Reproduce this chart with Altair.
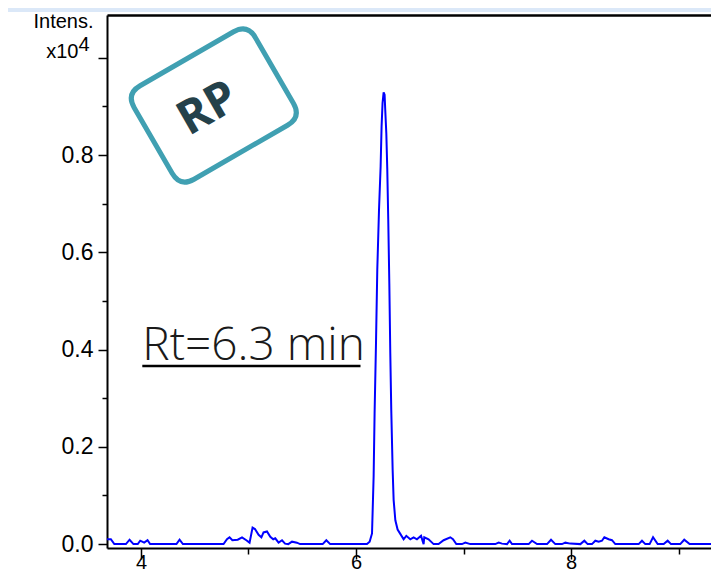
import altair as alt
import pandas as pd

# Retention time (min)
times = [3.684, 3.720, 3.752, 3.860, 3.894, 3.930, 3.970, 3.993, 4.030, 4.061,
         4.085, 4.330, 4.359, 4.390, 4.768, 4.800, 4.824, 4.850, 4.900, 4.940,
         4.980, 5.010, 5.038, 5.060, 5.094, 5.120, 5.140, 5.172, 5.203, 5.230,
         5.249, 5.280, 5.312, 5.340, 5.370, 5.405, 5.450, 5.480, 5.690, 5.724,
         5.760, 6.102, 6.127, 6.149, 6.164, 6.173, 6.186, 6.198, 6.214, 6.229,
         6.238, 6.247, 6.257, 6.266, 6.272, 6.282, 6.291, 6.300, 6.310, 6.319,
         6.328, 6.341, 6.350, 6.366, 6.387, 6.412, 6.443, 6.468, 6.505, 6.536,
         6.567, 6.605, 6.623, 6.629, 6.635, 6.675, 6.722, 6.768, 6.815, 6.877,
         6.902, 6.933, 6.986, 7.017, 7.063, 7.296, 7.327, 7.358, 7.405, 7.429,
         7.451, 7.606, 7.637, 7.684, 7.777, 7.814, 7.854, 7.916, 7.947, 7.993,
         8.087, 8.124, 8.155, 8.195, 8.226, 8.257, 8.288, 8.310, 8.350, 8.381,
         8.412, 8.629, 8.660, 8.691, 8.731, 8.763, 8.806, 8.862, 8.899, 8.930,
         9.016, 9.053, 9.103, 9.380]

# Intensity (x10^4)
intensity = [0.010, 0.010, 0.000, 0.000, 0.009, 0.000, 0.000, 0.007, 0.003, 0.008,
             0.000, 0.000, 0.009, 0.000, 0.000, 0.010, 0.014, 0.008, 0.009, 0.014,
             0.008, 0.003, 0.034, 0.031, 0.019, 0.014, 0.024, 0.026, 0.015, 0.010,
             0.012, 0.003, 0.008, 0.001, 0.000, 0.005, 0.003, 0.000, 0.000, 0.008,
             0.000, 0.000, 0.005, 0.022, 0.139, 0.269, 0.413, 0.564, 0.687, 0.776,
             0.859, 0.907, 0.929, 0.924, 0.893, 0.845, 0.770, 0.667, 0.536, 0.392,
             0.276, 0.152, 0.091, 0.049, 0.030, 0.021, 0.010, 0.017, 0.010, 0.014,
             0.010, 0.017, 0.004, 0.000, 0.014, 0.010, 0.000, 0.000, 0.008, 0.014,
             0.010, 0.000, 0.000, 0.003, 0.000, 0.000, 0.003, 0.001, 0.000, 0.007,
             0.000, 0.000, 0.007, 0.000, 0.000, 0.009, 0.000, 0.000, 0.003, 0.001,
             0.000, 0.007, 0.000, 0.000, 0.007, 0.005, 0.007, 0.014, 0.010, 0.008,
             0.000, 0.000, 0.007, 0.000, 0.000, 0.014, 0.000, 0.000, 0.007, 0.000,
             0.000, 0.009, 0.000, 0.000]

x_major = [4, 6, 8]
x_minor = [5, 7, 9]
y_major = [0.0, 0.2, 0.4, 0.6, 0.8, 1.0]
y_minor = [0.1, 0.3, 0.5, 0.7, 0.9]

x_domain = [3.684, 9.302]
y_domain = [-0.008, 1.088]

df = pd.DataFrame({"t": times, "v": intensity})
one = pd.DataFrame({"a": [0]})

W, H = 604, 533
LABEL_FONT = "Liberation Sans"

xs = alt.Scale(domain=x_domain, nice=False, zero=False)
ys = alt.Scale(domain=y_domain, nice=False, zero=False)

line = alt.Chart(df).mark_line(color="#0000ff", strokeWidth=2, clip=True).encode(
    x=alt.X("t:Q", scale=xs, title=None,
            axis=alt.Axis(orient="bottom", values=x_major, format="d", grid=False,
                          domainColor="black", domainWidth=2, tickColor="black",
                          tickSize=11, tickWidth=1.5, labelFontSize=20,
                          labelFont=LABEL_FONT, labelColor="black",
                          labelBaseline="alphabetic", labelPadding=9)),
    y=alt.Y("v:Q", scale=ys, title=None,
            axis=alt.Axis(orient="left", values=y_major, grid=False,
                          labelExpr="datum.value > 0.95 ? '' : format(datum.value, '.1f')",
                          domainColor="black", domainWidth=2, tickColor="black",
                          tickSize=9, tickWidth=1.5, labelFontSize=23,
                          labelFont=LABEL_FONT, labelColor="black", labelPadding=5)),
)

minor = alt.Chart(df).mark_point(opacity=0).encode(
    x=alt.X("t:Q", scale=xs, title=None,
            axis=alt.Axis(orient="bottom", values=x_minor, labels=False, domain=False,
                          grid=False, tickColor="black", tickSize=6, tickWidth=1.5)),
    y=alt.Y("v:Q", scale=ys, title=None,
            axis=alt.Axis(orient="left", values=y_minor, labels=False, domain=False,
                          grid=False, tickColor="black", tickSize=5, tickWidth=1.5)),
)

top = alt.Chart(df).mark_point(opacity=0).encode(
    x=alt.X("t:Q", scale=xs, title=None,
            axis=alt.Axis(orient="top", ticks=False, labels=False, grid=False,
                          domainColor="black", domainWidth=2.5)),
)

strip = alt.Chart(one).mark_rect(color="#dbe8f8").encode(
    x=alt.value(-120), x2=alt.value(W + 20), y=alt.value(-7), y2=alt.value(-3)
)

intens = alt.Chart(one).mark_text(text="Intens.", font=LABEL_FONT, fontSize=20,
                                  align="right", baseline="alphabetic", color="black").encode(
    x=alt.value(-13.5), y=alt.value(13))
x10 = alt.Chart(one).mark_text(text="x10", font=LABEL_FONT, fontSize=20,
                               align="right", baseline="alphabetic", color="black").encode(
    x=alt.value(-28.5), y=alt.value(42.5))
sup4 = alt.Chart(one).mark_text(text="4", font=LABEL_FONT, fontSize=20,
                                align="left", baseline="alphabetic", color="black").encode(
    x=alt.value(-28.5), y=alt.value(36))

rt = alt.Chart(one).mark_text(text="Rt=6.3 min", font="Open Sans", fontSize=46,
                              fontWeight=300, align="left", baseline="alphabetic",
                              color="#1a1a1a").encode(
    x=alt.value(35.3), y=alt.value(345))
underline = alt.Chart(one).mark_rule(color="black", strokeWidth=2.5).encode(
    x=alt.value(35.3), x2=alt.value(253.5), y=alt.value(351))

badge_path = ("M -0.771 -0.771 L 0.771 -0.771 Q 1 -0.771 1 -0.542 L 1 0.542 "
              "Q 1 0.771 0.771 0.771 L -0.771 0.771 Q -1 0.771 -1 0.542 "
              "L -1 -0.542 Q -1 -0.771 -0.771 -0.771 Z")
badge = alt.Chart(one).mark_point(shape=badge_path, size=140 * 140, angle=330,
                                  filled=False, stroke="#40a0b2", strokeWidth=5,
                                  opacity=1).encode(
    x=alt.value(106.8), y=alt.value(90.5))
rp = alt.Chart(one).mark_text(text="RP", font="Open Sans", fontSize=47, fontWeight=700,
                              angle=330, align="center", baseline="middle",
                              color="#24414a").encode(
    x=alt.value(101), y=alt.value(94))

chart = alt.layer(strip, line, minor, top, intens, x10, sup4, rt, underline, badge, rp).resolve_axis(
    x="independent", y="independent"
).properties(
    width=W, height=H,
    autosize=alt.AutoSizeParams(type="none"),
    padding={"left": 99, "top": 7, "right": 0, "bottom": 26},
).configure_view(stroke=None).configure(background="white")

chart.save("out.html", embed_options={"renderer": "svg", "actions": False})
